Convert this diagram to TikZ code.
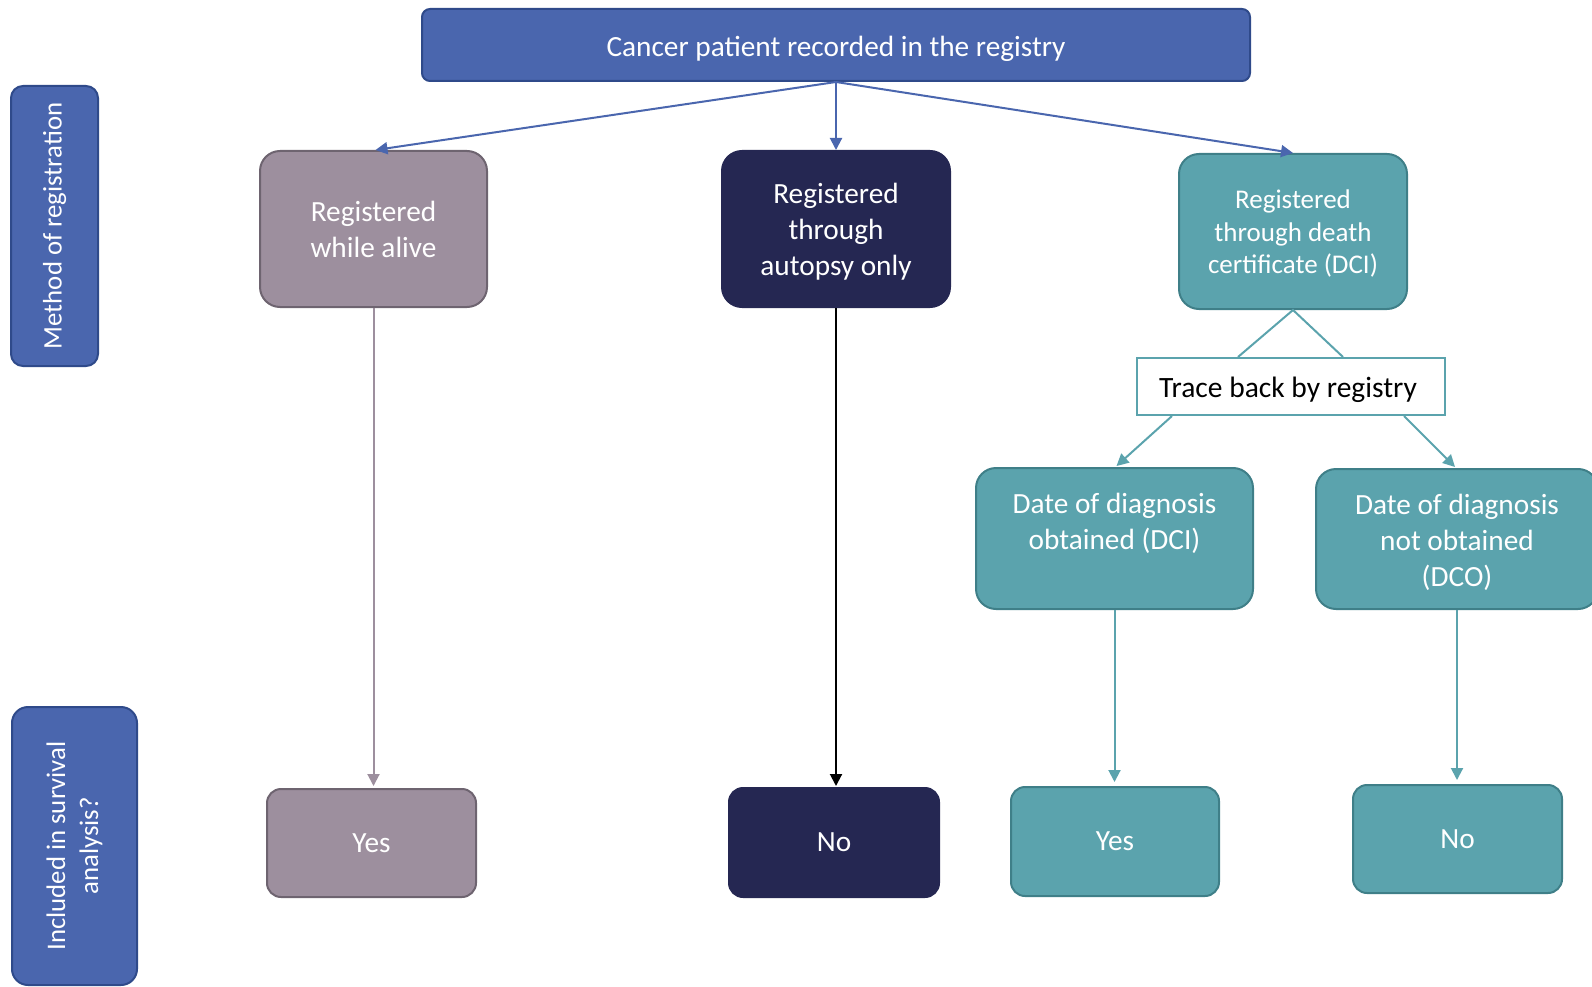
\documentclass[tikz,border=0pt]{standalone}
\usepackage{fontspec}
\setmainfont{Carlito}
\usetikzlibrary{arrows.meta,calc}
\definecolor{cblue}{HTML}{4A66AE}
\definecolor{cblueD}{HTML}{2F4A8A}
\definecolor{cmauve}{HTML}{9D8F9E}
\definecolor{cmauveD}{HTML}{6E6470}
\definecolor{cnavy}{HTML}{252752}
\definecolor{cteal}{HTML}{5BA3AD}
\definecolor{ctealD}{HTML}{3F7F88}
\newcommand\shifttext[2]{\raisebox{#1}[\height][\depth]{\begin{tabular}{@{}c@{}}#2\end{tabular}}}
\begin{document}
\begin{tikzpicture}[x=1pt,y=-1pt,
  box/.style={draw,line width=2pt,rounded corners=20pt,align=center,text=white,inner sep=0pt},
  bluebox/.style={box,fill=cblue,draw=cblueD},
  mauvebox/.style={box,fill=cmauve,draw=cmauveD},
  navybox/.style={box,fill=cnavy,draw=cnavy},
  tealbox/.style={box,fill=cteal,draw=ctealD},
  arr/.style={line width=2pt,-{Triangle[length=12pt,width=12pt]}},
  big/.style={font=\fontsize{29.3}{36}\selectfont},
  mid/.style={font=\fontsize{27}{32.5}\selectfont},
  side/.style={font=\fontsize{26.8}{33}\selectfont}]
\useasboundingbox (0,0) rectangle (1592,987);
\node[bluebox,rounded corners=8pt,minimum width=828pt,minimum height=72pt,big] (top) at (836,45) {\shifttext{-4pt}{Cancer patient recorded in the registry}};
\node[bluebox,rounded corners=12pt,minimum width=280pt,minimum height=87pt,rotate=90,side] (meth) at (54.5,226) {Method of registration};
\node[bluebox,rounded corners=16pt,minimum width=278pt,minimum height=125pt,rotate=90,side] (incl) at (74.5,846) {Included in survival\\analysis?};
\node[mauvebox,minimum width=227pt,minimum height=156pt,big] (alive) at (373.5,229) {Registered\\while alive};
\node[navybox,minimum width=228pt,minimum height=156pt,big] (autopsy) at (836,229) {\shifttext{-3pt}{Registered\\through\\autopsy only}};
\node[tealbox,minimum width=228pt,minimum height=155pt,mid] (dcireg) at (1293,231.5) {\shifttext{-3pt}{Registered\\through death\\certificate (DCI)}};
\node[draw=cteal,line width=2pt,fill=white,minimum width=308pt,minimum height=57pt,inner sep=0pt,font=\fontsize{29.5}{36}\selectfont] (trace) at (1291,386.5) {\hspace*{-6pt}\shifttext{-4pt}{Trace back by registry}};
\node[tealbox,minimum width=277pt,minimum height=141pt,big] (dobt) at (1114.5,538.5) {\shifttext{14pt}{Date of diagnosis\\obtained (DCI)}};
\node[tealbox,minimum width=282pt,minimum height=140pt,big] (dnot) at (1457,539) {\shifttext{-4pt}{Date of diagnosis\\not obtained\\(DCO)}};
\node[mauvebox,rounded corners=14pt,minimum width=209pt,minimum height=108pt,big] (yes1) at (371.5,843) {Yes};
\node[navybox,rounded corners=14pt,minimum width=210pt,minimum height=109pt,big] (no1) at (834,842.5) {No};
\node[tealbox,rounded corners=14pt,minimum width=208pt,minimum height=109pt,big] (yes2) at (1115,841.5) {Yes};
\node[tealbox,rounded corners=14pt,minimum width=209pt,minimum height=108pt,big] (no2) at (1457.5,839) {No};
% top arrows
\draw[arr,cblue] (top.south) -- ($(alive.north)+(2,0)$);
\draw[arr,cblue] (top.south) -- (autopsy.north);
\draw[arr,cblue] (top.south) -- (dcireg.north);
% vertical arrows
\draw[arr,cmauve] (alive.south) -- ($(alive.south |- yes1.north)+(0,-2)$);
\draw[arr,black] (autopsy.south) -- ($(autopsy.south |- no1.north)+(0,-1)$);
\draw[arr,cteal] (dobt.south) -- ($(dobt.south |- yes2.north)+(0,-4)$);
\draw[arr,cteal] (dnot.south) -- ($(dnot.south |- no2.north)+(0,-4)$);
% trace back
\coordinate (tl) at ($(trace.north west)+(102,0)$);
\coordinate (tr) at ($(trace.north east)+(-103,0)$);
\draw[cteal,line width=2pt] (tl) -- (dcireg.south) -- (tr);
\coordinate (bl) at ($(trace.south west)+(36,0)$);
\coordinate (br) at ($(trace.south east)+(-42,0)$);
\draw[arr,cteal] (bl) -- ($(dobt.north)+(2,-1)$);
\draw[arr,cteal] (br) -- ($(dnot.north)+(-2,-1)$);
\end{tikzpicture}
\end{document}
